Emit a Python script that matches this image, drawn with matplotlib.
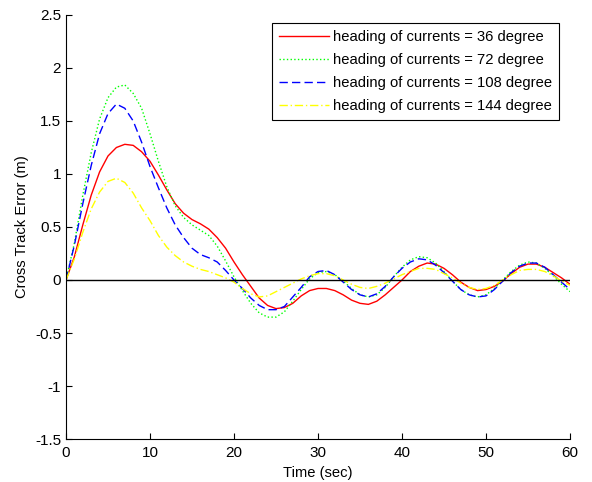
import numpy as np
import matplotlib.pyplot as plt

plt.rcParams['font.family'] = ['Liberation Sans', 'DejaVu Sans']

t = np.arange(0, 61)

e36 = [0, 0.22, 0.52, 0.80, 1.02, 1.17, 1.25, 1.28, 1.27, 1.21,
       1.12, 0.99, 0.85, 0.72, 0.63, 0.57, 0.53, 0.48, 0.40, 0.30,
       0.17, 0.05, -0.06, -0.17, -0.24, -0.27, -0.26, -0.22, -0.15, -0.10,
       -0.08, -0.08, -0.10, -0.14, -0.19, -0.22, -0.23, -0.20, -0.14, -0.07,
       0.00, 0.08, 0.13, 0.16, 0.15, 0.11, 0.05, -0.02, -0.07, -0.10,
       -0.09, -0.06, -0.01, 0.06, 0.12, 0.15, 0.15, 0.12, 0.07, 0.02,
       -0.04]
e72 = [0, 0.35, 0.80, 1.20, 1.52, 1.72, 1.82, 1.84, 1.76, 1.62,
       1.38, 1.12, 0.88, 0.70, 0.59, 0.52, 0.47, 0.42, 0.32, 0.18,
       0.03, -0.10, -0.22, -0.31, -0.35, -0.35, -0.30, -0.20, -0.09, 0.01,
       0.07, 0.08, 0.05, -0.01, -0.08, -0.14, -0.16, -0.14, -0.07, 0.03,
       0.12, 0.19, 0.22, 0.21, 0.16, 0.08, -0.01, -0.09, -0.14, -0.16,
       -0.14, -0.08, 0.00, 0.08, 0.14, 0.17, 0.16, 0.11, 0.04, -0.04,
       -0.11]
e108 = [0, 0.33, 0.72, 1.08, 1.38, 1.57, 1.66, 1.62, 1.50, 1.30,
        1.07, 0.87, 0.68, 0.52, 0.40, 0.30, 0.24, 0.21, 0.17, 0.09,
        0.00, -0.08, -0.17, -0.24, -0.28, -0.28, -0.25, -0.16, -0.07, 0.03,
        0.08, 0.09, 0.05, -0.02, -0.09, -0.14, -0.16, -0.13, -0.06, 0.03,
        0.11, 0.17, 0.20, 0.19, 0.14, 0.07, -0.01, -0.09, -0.14, -0.16,
        -0.15, -0.09, -0.01, 0.07, 0.13, 0.16, 0.16, 0.12, 0.05, -0.02,
        -0.09]
e144 = [0, 0.20, 0.45, 0.67, 0.83, 0.93, 0.96, 0.92, 0.82, 0.68,
        0.56, 0.42, 0.31, 0.23, 0.17, 0.13, 0.10, 0.08, 0.05, 0.02,
        -0.02, -0.08, -0.13, -0.16, -0.15, -0.11, -0.07, -0.03, 0.01, 0.04,
        0.06, 0.06, 0.04, 0.00, -0.04, -0.07, -0.08, -0.06, -0.03, 0.01,
        0.05, 0.08, 0.11, 0.11, 0.10, 0.06, 0.02, -0.03, -0.07, -0.09,
        -0.08, -0.05, 0.00, 0.05, 0.09, 0.10, 0.10, 0.08, 0.04, -0.01,
        -0.05]

fig = plt.figure(figsize=(5.92, 4.82), dpi=100)
ax = fig.add_axes([0.1115, 0.0892, 0.8513, 0.8797])

ax.plot(t, e36, color='r', ls='-', lw=1, label='heading of currents = 36 degree')
ax.plot(t, e72, color='#00ff00', ls=':', lw=1, label='heading of currents = 72 degree')
ax.plot(t, e108, color='b', ls=(0, (6, 3)), lw=1, label='heading of currents = 108 degree')
ax.plot(t, e144, color='#ffff00', ls=(0, (6, 2, 1, 2)), lw=1, label='heading of currents = 144 degree')
ax.plot([0, 60], [0, 0], color='k', lw=1)

ax.set_xlim(0, 60)
ax.set_ylim(-1.5, 2.5)
ax.set_xticks([0, 10, 20, 30, 40, 50, 60])
ax.set_yticks([-1.5, -1, -0.5, 0, 0.5, 1, 1.5, 2, 2.5])
ax.set_yticklabels(['-1.5', '-1', '-0.5', '0', '0.5', '1', '1.5', '2', '2.5'])
ax.tick_params(direction='in', length=4, labelsize=11, width=0.8)
ax.tick_params(axis='x', pad=5)
ax.spines['top'].set_visible(False)
ax.spines['right'].set_visible(False)
ax.set_xlabel('Time (sec)', fontsize=10.6, labelpad=4)
ax.set_ylabel('Cross Track Error (m)', fontsize=10.6, labelpad=4)

leg = ax.legend(loc='upper right', bbox_to_anchor=(0.978, 0.981), fontsize=10.6,
                handlelength=3.4, handletextpad=0.3, labelspacing=0.62,
                borderpad=0.45, borderaxespad=0, fancybox=False, framealpha=1)
leg.get_frame().set_edgecolor('k')
leg.get_frame().set_linewidth(0.8)

fig.savefig('out.png', dpi=100)
